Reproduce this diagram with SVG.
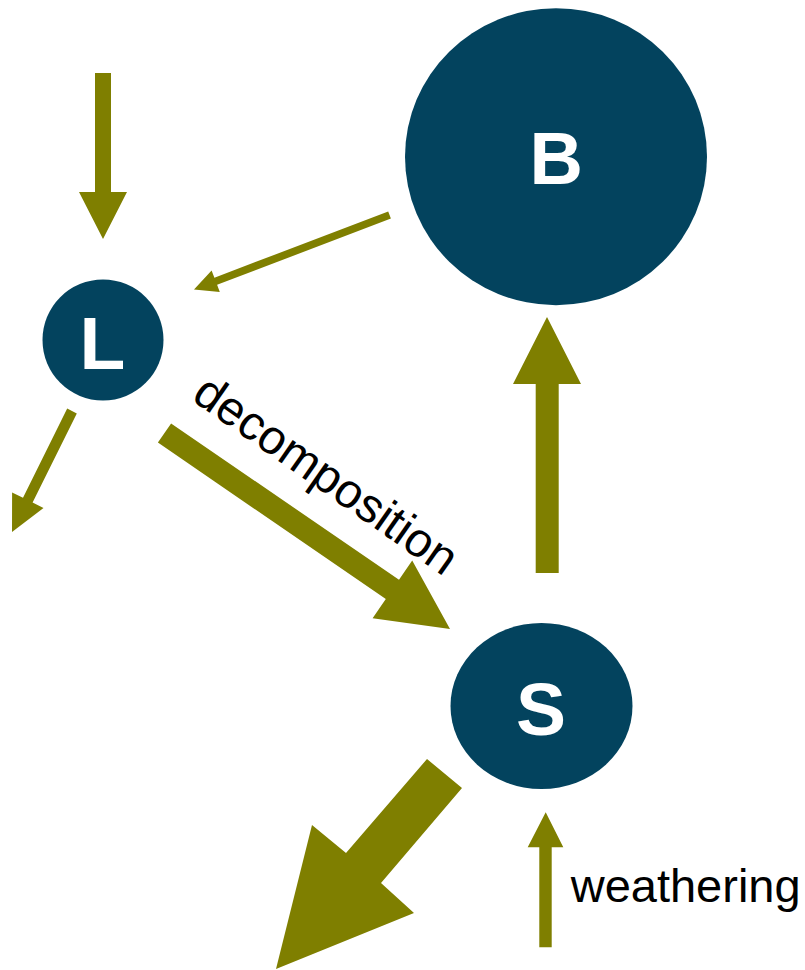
<svg xmlns="http://www.w3.org/2000/svg" width="805" height="970" viewBox="0 0 805 970">
<style>
.node{fill:#03435E}
.nl{fill:#FFFFFF;font-family:"Liberation Sans",Arial,sans-serif;font-weight:bold;text-anchor:middle}
.arr{fill:#7F7F00}
.lbl{fill:#000000;font-family:"Liberation Sans",Arial,sans-serif}
</style>
<rect width="805" height="970" fill="#FFFFFF"/>
<g id="connectors">
<polygon class="arr" points="95,73 111,73 111,192 127,192 103,239 79,192 95,192"/>
<polygon class="arr" points="388.2,211.5 390.9,218.6 217.1,284.8 219.8,291.9 194,289.5 211.6,270.6 214.4,277.7"/>
<polygon class="arr" points="67.2,408.6 76.8,413.4 32.6,502.6 43.5,508 12,532 12.1,492.4 23,497.8"/>
<polygon class="arr" points="171.1,423.4 157.9,442.6 385.8,599 372.6,618.3 450,629 412.2,560.6 399,579.8"/>
<polygon class="arr" points="535.7,573 558.7,573 558.7,384 581,384 547,317 513,384 535.7,384"/>
<polygon class="arr" points="427,759 462,788 381,883 414,913 276,969 312,825 346,853"/>
<polygon class="arr" points="539.3,947.3 551.7,947.3 551.7,847.3 563.3,847.3 545.7,812.3 527.7,847.3 539.3,847.3"/>
<text class="lbl" x="317" y="488" font-size="48" text-anchor="middle" transform="rotate(35 317 488)">decomposition</text>
<text class="lbl" x="570.7" y="901.7" font-size="47">weathering</text>
</g>
<g id="node-B">
<ellipse class="node" cx="556" cy="156.7" rx="151" ry="148.5"/>
<text class="nl" x="556.3" y="184" font-size="74">B</text>
</g>
<g id="node-L">
<circle class="node" cx="103" cy="340" r="60.5"/>
<text class="nl" x="102.4" y="369" font-size="75">L</text>
</g>
<g id="node-S">
<ellipse class="node" cx="541.5" cy="706" rx="91" ry="83"/>
<text class="nl" x="541" y="735" font-size="75">S</text>
</g>
</svg>
